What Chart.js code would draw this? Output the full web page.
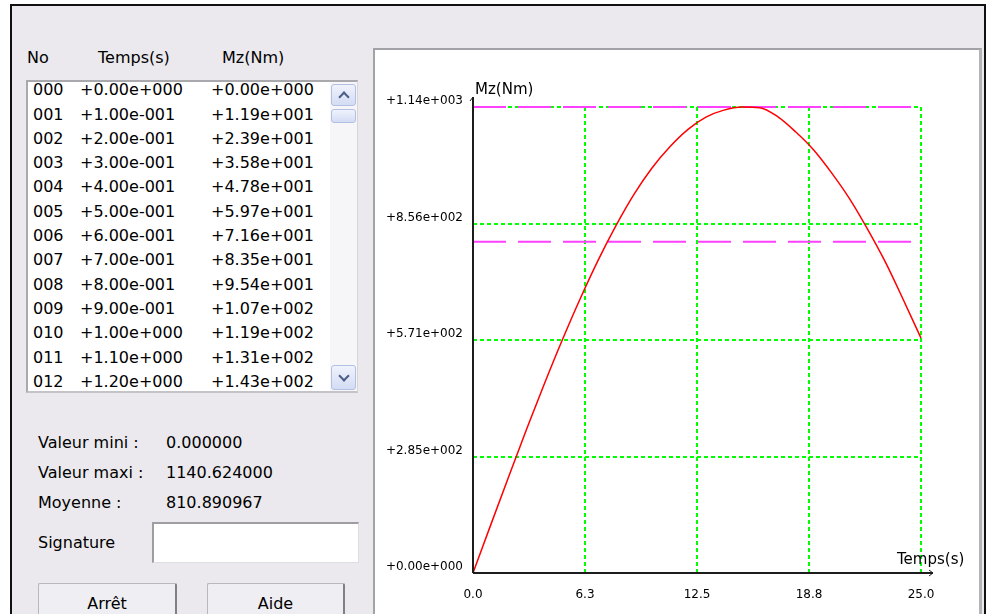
<!DOCTYPE html>
<html lang="fr">
<head>
<meta charset="utf-8">
<title>Mz(Nm) - Temps(s)</title>
<script src="https://cdn.jsdelivr.net/npm/chart.js@4.4.0/dist/chart.umd.min.js"></script>
<style>
  body { margin: 0; width: 989px; height: 614px; overflow: hidden; background: #fff;
         font-family: "DejaVu Sans", sans-serif; font-size: 16px; color: #000; }
  .abs { position: absolute; box-sizing: border-box; }
  .txt { position: absolute; line-height: 20px; white-space: pre; }
  #fenetre { left: 10px; top: 4px; width: 976px; height: 640px; background: #ebe9ed;
             border-top: 2px solid #111; border-left: 2px solid #111; border-right: 2px solid #111; }
  #panneau { left: 373px; top: 48px; width: 609px; height: 600px; background: #fff;
             border-top: 2px solid #a3a3a7; border-left: 2px solid #a3a3a7; border-right: 3px solid #b4b4b8; }
  #liste { left: 26px; top: 80px; width: 332px; height: 313px; background: #fff;
           border-top: 2px solid #a9a9ad; border-left: 2px solid #a9a9ad;
           border-right: 1px solid #d6d6da; border-bottom: 2px solid #c4c4c8; }
  #defil { left: 330px; top: 82px; width: 27px; height: 309px; background: #f6f6f8; }
  .bouton-defil { position: absolute; left: 331px; width: 25px; box-sizing: border-box;
                  border: 1px solid #b4c0e2; border-radius: 3px;
                  background: linear-gradient(#f0f3fd, #d3dcf4); }
  .chevron { position: absolute; left: 8px; width: 6px; height: 6px;
             border-top: 2px solid #4a5e86; border-left: 2px solid #4a5e86; }
  #signature { left: 152px; top: 522px; width: 207px; height: 41px; background: #fff;
               border-top: 2px solid #9e9ea2; border-left: 2px solid #9e9ea2;
               border-right: 1px solid #dedee2; border-bottom: 1px solid #dedee2; }
  .bouton { position: absolute; top: 583px; height: 40px; box-sizing: border-box;
            background: #efeef2; border: 1px solid #b8b8bc; border-right: 2px solid #808084;
            border-radius: 2px; text-align: center; padding-top: 10px; line-height: 20px; }
  #graphique { position: absolute; left: 375px; top: 50px; }
</style>
</head>
<body>
<div id="fenetre" class="abs"></div>
<div id="panneau" class="abs"></div>
<div id="liste" class="abs"></div>
<div id="defil" class="abs"></div>
<div class="bouton-defil" style="top:84px;height:22px;"><div class="chevron" style="top:8px;transform:rotate(45deg);"></div></div>
<div class="bouton-defil" style="top:109px;height:14px;"></div>
<div class="bouton-defil" style="top:365px;height:25px;"><div class="chevron" style="top:6px;transform:rotate(225deg);"></div></div>
<div id="signature" class="abs"></div>
<div class="bouton" style="left:38px;width:139px;">Arrêt</div>
<div class="bouton" style="left:207px;width:138px;">Aide</div>
<canvas id="graphique" width="604" height="564"></canvas>

<script>
// Donnees de la courbe Mz(t)
const temps = [0, 1, 2, 3, 4, 5, 6, 7, 8, 9, 10, 11, 12, 13, 14, 15, 16, 17, 18, 19, 20, 21, 22, 23, 24, 25];
const mz = [0, 119, 237, 353, 465, 572, 673, 767, 852, 928, 992, 1044, 1086, 1116, 1133, 1140.6,
            1139, 1117, 1080, 1036, 980, 917, 843, 762, 670, 575];

// Statistiques affichees
const valeurMini = 0.0;
const valeurMaxi = 1140.624;
const moyenne = 810.890967;
const statLibelles = ['Valeur mini :', 'Valeur maxi :', 'Moyenne :'];
const statValeurs = ['0.000000', '1140.624000', '810.890967'];

// Axes
const tempsMin = 0;
const tempsMax = 25;
const ticksX = [0, 6.25, 12.5, 18.75, 25];
const etiquettesX = ['0.0', '6.3', '12.5', '18.8', '25.0'];
const ticksY = [0, 285.156, 570.312, 855.468, 1140.624];
const etiquettesY = ['+0.00e+000', '+2.85e+002', '+5.71e+002', '+8.56e+002', '+1.14e+003'];

// Tableau de gauche
const enTetes = ['No', 'Temps(s)', 'Mz(Nm)'];
const listeNo = ['000', '001', '002', '003', '004', '005', '006', '007', '008', '009', '010', '011', '012'];
const listeTemps = ['+0.00e+000', '+1.00e-001', '+2.00e-001', '+3.00e-001', '+4.00e-001', '+5.00e-001',
                    '+6.00e-001', '+7.00e-001', '+8.00e-001', '+9.00e-001', '+1.00e+000', '+1.10e+000', '+1.20e+000'];
const listeMz = ['+0.00e+000', '+1.19e+001', '+2.39e+001', '+3.58e+001', '+4.78e+001', '+5.97e+001',
                 '+7.16e+001', '+8.35e+001', '+9.54e+001', '+1.07e+002', '+1.19e+002', '+1.31e+002', '+1.43e+002'];

function ajouterTexte(texte, x, y) {
    const div = document.createElement('div');
    div.className = 'txt';
    div.textContent = texte;
    div.style.left = x + 'px';
    div.style.top = y + 'px';
    document.body.appendChild(div);
}

function construirePanneau() {
    const colonnesEnTete = [27, 98, 222];
    enTetes.forEach((t, i) => ajouterTexte(t, colonnesEnTete[i], 47.5));
    for (let i = 0; i < listeNo.length; i++) {
        const y = 80.2 + 24.3 * i;
        ajouterTexte(listeNo[i], 33, y);
        ajouterTexte(listeTemps[i], 80, y);
        ajouterTexte(listeMz[i], 211, y);
    }
    statLibelles.forEach((t, i) => {
        ajouterTexte(t, 38, 433 + 30 * i);
        ajouterTexte(statValeurs[i], 166, 433 + 30 * i);
    });
    ajouterTexte('Signature', 38, 533);
}

// Axes noirs avec fleches et titres des axes
const axesFleches = {
    id: 'axesFleches',
    afterDatasetsDraw(chart) {
        const { ctx, chartArea: { left, right, top, bottom } } = chart;
        ctx.save();
        ctx.strokeStyle = '#1c1c1c';
        ctx.lineWidth = 2;
        ctx.beginPath();
        ctx.moveTo(left, bottom);
        ctx.lineTo(left, top - 10);
        ctx.moveTo(left, bottom);
        ctx.lineTo(right + 12, bottom);
        ctx.stroke();
        ctx.lineWidth = 1;
        ctx.beginPath();
        ctx.moveTo(left - 3, top - 6);
        ctx.lineTo(left, top - 10);
        ctx.moveTo(right + 8, bottom - 3);
        ctx.lineTo(right + 12, bottom);
        ctx.lineTo(right + 8, bottom + 3);
        ctx.stroke();
        ctx.fillStyle = '#000';
        ctx.font = '15px "DejaVu Sans"';
        ctx.textBaseline = 'middle';
        ctx.textAlign = 'left';
        ctx.fillText('Mz(Nm)', left + 2, top - 17);
        ctx.fillText('Temps(s)', right - 24, bottom - 13);
        ctx.restore();
    }
};

function initialiserGraphique(canvasId) {
    const canvas = document.getElementById(canvasId);
    if (!canvas) {
        console.error('Canvas introuvable :', canvasId);
        return;
    }
    const police = { family: '"DejaVu Sans", sans-serif', size: 12 };
    new Chart(canvas, {
        type: 'line',
        data: {
            datasets: [
                {
                    label: 'Mz(Nm)',
                    data: temps.map((t, i) => ({ x: t, y: mz[i] })),
                    borderColor: '#ff0000',
                    borderWidth: 1.5,
                    pointRadius: 0,
                    clip: false,
                    cubicInterpolationMode: 'monotone'
                },
                {
                    label: 'Valeur maxi',
                    data: [{ x: tempsMin, y: valeurMaxi }, { x: tempsMax, y: valeurMaxi }],
                    borderColor: '#ff40ff',
                    borderWidth: 2,
                    borderDash: [33, 12],
                    pointRadius: 0,
                    clip: false
                },
                {
                    label: 'Moyenne',
                    data: [{ x: tempsMin, y: moyenne }, { x: tempsMax, y: moyenne }],
                    borderColor: '#ff40ff',
                    borderWidth: 2,
                    borderDash: [33, 12],
                    pointRadius: 0,
                    clip: false
                }
            ]
        },
        options: {
            responsive: false,
            animation: false,
            events: [],
            layout: { padding: { top: 57, right: 58, left: 0, bottom: 0 } },
            plugins: { legend: { display: false }, tooltip: { enabled: false } },
            scales: {
                x: {
                    type: 'linear',
                    min: tempsMin,
                    max: tempsMax,
                    afterBuildTicks: (scale) => { scale.ticks = ticksX.map(v => ({ value: v })); },
                    afterFit: (scale) => { scale.height = 41; },
                    grid: { color: '#00ff00', lineWidth: 2, drawTicks: false },
                    border: { display: false, dash: [4, 3] },
                    ticks: {
                        color: '#000',
                        font: police,
                        padding: 15,
                        maxRotation: 0,
                        callback: (v, i) => etiquettesX[i]
                    }
                },
                y: {
                    type: 'linear',
                    min: valeurMini,
                    max: valeurMaxi,
                    afterBuildTicks: (scale) => { scale.ticks = ticksY.map(v => ({ value: v })); },
                    afterFit: (scale) => { scale.width = 98; },
                    grid: { color: '#00ff00', lineWidth: 2, drawTicks: false },
                    border: { display: false, dash: [4, 3] },
                    ticks: {
                        color: '#000',
                        font: police,
                        padding: 10,
                        labelOffset: -6,
                        callback: (v, i) => etiquettesY[i]
                    }
                }
            }
        },
        plugins: [axesFleches]
    });
}

document.addEventListener('DOMContentLoaded', () => {
    construirePanneau();
    initialiserGraphique('graphique');
});
</script>
</body>
</html>
